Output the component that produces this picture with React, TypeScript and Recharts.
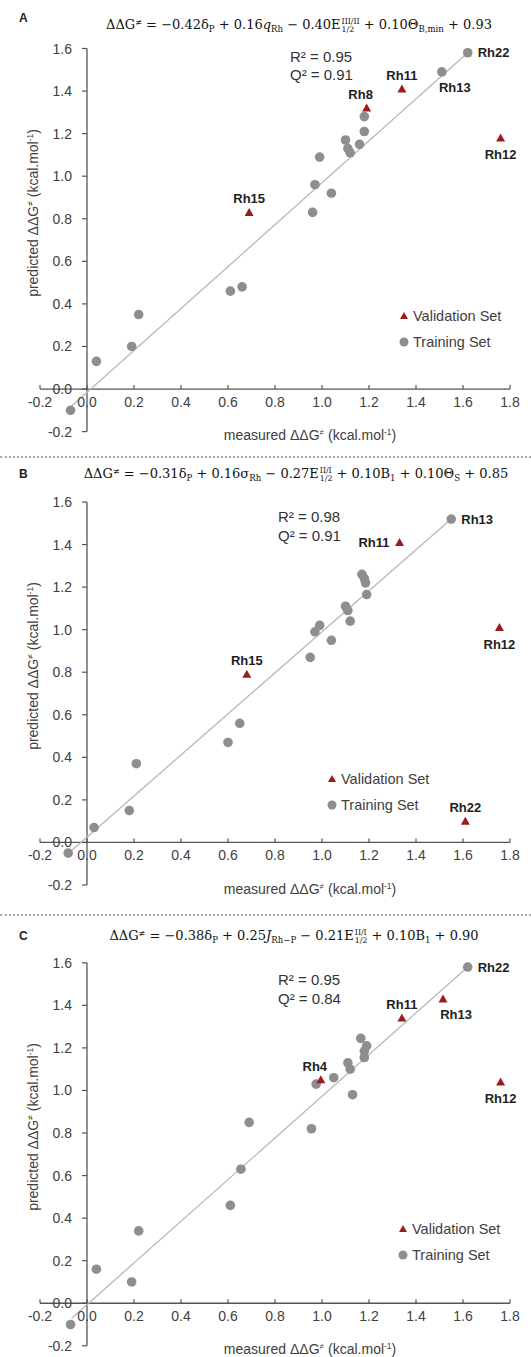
import React from 'react';
import { ScatterChart, Scatter, XAxis, YAxis, ReferenceDot, ReferenceLine, Legend } from 'recharts';

// ---------- data ----------
const xTicks = [-0.2, 0, 0.2, 0.4, 0.6, 0.8, 1.0, 1.2, 1.4, 1.6, 1.8];
const xTickLabels = ['-0.2', '0.0', '0.2', '0.4', '0.6', '0.8', '1.0', '1.2', '1.4', '1.6', '1.8'];
const yTicks = [-0.2, 0, 0.2, 0.4, 0.6, 0.8, 1.0, 1.2, 1.4, 1.6];
const yTickLabels = ['-0.2', '0.0', '0.2', '0.4', '0.6', '0.8', '1.0', '1.2', '1.4', '1.6'];

const trainA = [
  { x: -0.07, y: -0.1 }, { x: 0.04, y: 0.13 }, { x: 0.19, y: 0.2 }, { x: 0.22, y: 0.35 },
  { x: 0.61, y: 0.46 }, { x: 0.66, y: 0.48 }, { x: 0.96, y: 0.83 }, { x: 0.97, y: 0.96 },
  { x: 1.04, y: 0.92 }, { x: 0.99, y: 1.09 }, { x: 1.1, y: 1.17 }, { x: 1.11, y: 1.13 },
  { x: 1.12, y: 1.11 }, { x: 1.16, y: 1.15 }, { x: 1.18, y: 1.21 }, { x: 1.18, y: 1.28 },
  { x: 1.51, y: 1.49, name: 'Rh13' }, { x: 1.62, y: 1.58, name: 'Rh22' },
];
const validA = [
  { x: 0.69, y: 0.83, name: 'Rh15' }, { x: 1.19, y: 1.32, name: 'Rh8' },
  { x: 1.34, y: 1.41, name: 'Rh11' }, { x: 1.76, y: 1.18, name: 'Rh12' },
];
const fitA = [{ x: -0.065, y: -0.08 }, { x: 1.62, y: 1.58 }];

const trainB = [
  { x: -0.08, y: -0.05 }, { x: 0.03, y: 0.07 }, { x: 0.18, y: 0.15 }, { x: 0.21, y: 0.37 },
  { x: 0.6, y: 0.47 }, { x: 0.65, y: 0.56 }, { x: 0.95, y: 0.87 }, { x: 0.97, y: 0.99 },
  { x: 0.99, y: 1.02 }, { x: 1.04, y: 0.95 }, { x: 1.1, y: 1.11 }, { x: 1.11, y: 1.09 },
  { x: 1.12, y: 1.04 }, { x: 1.17, y: 1.26 }, { x: 1.18, y: 1.24 }, { x: 1.185, y: 1.22 },
  { x: 1.19, y: 1.165 }, { x: 1.55, y: 1.52, name: 'Rh13' },
];
const validB = [
  { x: 0.68, y: 0.79, name: 'Rh15' }, { x: 1.33, y: 1.41, name: 'Rh11' },
  { x: 1.61, y: 0.1, name: 'Rh22' }, { x: 1.755, y: 1.01, name: 'Rh12' },
];
const fitB = [{ x: -0.068, y: -0.04 }, { x: 1.55, y: 1.52 }];

const trainC = [
  { x: -0.07, y: -0.1 }, { x: 0.04, y: 0.16 }, { x: 0.19, y: 0.1 }, { x: 0.22, y: 0.34 },
  { x: 0.61, y: 0.46 }, { x: 0.655, y: 0.63 }, { x: 0.69, y: 0.85 }, { x: 0.955, y: 0.82 },
  { x: 0.975, y: 1.03 }, { x: 1.05, y: 1.06 }, { x: 1.11, y: 1.13 }, { x: 1.12, y: 1.1 },
  { x: 1.13, y: 0.98 }, { x: 1.165, y: 1.245 }, { x: 1.19, y: 1.21 }, { x: 1.18, y: 1.185 },
  { x: 1.18, y: 1.155 }, { x: 1.62, y: 1.58, name: 'Rh22' },
];
const validC = [
  { x: 0.995, y: 1.05, name: 'Rh4' }, { x: 1.34, y: 1.34, name: 'Rh11' },
  { x: 1.515, y: 1.43, name: 'Rh13' }, { x: 1.76, y: 1.04, name: 'Rh12' },
];
const fitC = [{ x: -0.065, y: -0.07 }, { x: 1.62, y: 1.58 }];

const labelPosA: Record<string, string> = { Rh22: 'right', Rh13: 'bottomRight', Rh11: 'top', Rh8: 'topLeft', Rh12: 'bottom', Rh15: 'top' };
const labelPosB: Record<string, string> = { Rh13: 'right', Rh11: 'left', Rh15: 'top', Rh12: 'bottom', Rh22: 'top' };
const labelPosC: Record<string, string> = { Rh22: 'right', Rh13: 'bottomRight', Rh11: 'top', Rh4: 'topLeft', Rh12: 'bottom' };

// ---------- styles ----------
const SANS = '"Liberation Sans", Arial, sans-serif';
const SERIF = '"DejaVu Serif", "Liberation Serif", serif';
const AXIS = '#555555';
const TICK = '#404040';
const GREY = '#8e8e8e';
const RED = '#9e1b1b';
const FIT = '#b8b8b8';

const W = 531;

function PointLabel({ cx, cy, name, pos }: any) {
  let x = cx;
  let y = cy;
  let anchor: any = 'middle';
  switch (pos) {
    case 'top': y = cy - 9; break;
    case 'topLeft': x = cx - 6; y = cy - 9; break;
    case 'bottom': y = cy + 21; break;
    case 'bottomRight': x = cx + 13; y = cy + 20; break;
    case 'right': x = cx + 10; y = cy + 4.5; anchor = 'start'; break;
    case 'left': x = cx - 10; y = cy + 4.5; anchor = 'end'; break;
  }
  return (
    <text x={x} y={y} textAnchor={anchor} fontSize={13} fontWeight={700} fill="#1e1e1e" fontFamily={SANS}>
      {name}
    </text>
  );
}

const circleShape = (labels: Record<string, string>) => (p: any) => (
  <g>
    <circle cx={p.cx} cy={p.cy} r={4.8} fill={GREY} />
    {p.payload && p.payload.name ? <PointLabel cx={p.cx} cy={p.cy} name={p.payload.name} pos={labels[p.payload.name]} /> : null}
  </g>
);

const triangleShape = (labels: Record<string, string>) => (p: any) => (
  <g>
    <path d={`M${p.cx},${p.cy - 4.5} L${p.cx + 4.5},${p.cy + 3.5} L${p.cx - 4.5},${p.cy + 3.5} Z`} fill={RED} />
    {p.payload && p.payload.name ? <PointLabel cx={p.cx} cy={p.cy} name={p.payload.name} pos={labels[p.payload.name]} /> : null}
  </g>
);

const xTickShape = (label: string) => (p: any) => (
  <g>
    <line x1={p.cx} y1={p.cy} x2={p.cx} y2={p.cy - 4} stroke={AXIS} strokeWidth={1.2} />
    <text x={p.cx} y={p.cy + 18} textAnchor="middle" fontSize={14} fill={TICK} fontFamily={SANS}>{label}</text>
  </g>
);

const yTickShape = (label: string) => (p: any) => (
  <g>
    <line x1={p.cx - 5} y1={p.cy} x2={p.cx} y2={p.cy} stroke={AXIS} strokeWidth={1.2} />
    <text x={p.cx - 15} y={p.cy + 5} textAnchor="end" fontSize={14} fill={TICK} fontFamily={SANS}>{label}</text>
  </g>
);

const LegendBox = () => (
  <div style={{ fontFamily: SANS, fontSize: 14.5, color: TICK }}>
    <div style={{ display: 'flex', alignItems: 'center', height: 26 }}>
      <svg width={12} height={12}><path d="M6,2 L10,9 L2,9 Z" fill={RED} /></svg>
      <span style={{ marginLeft: 3, whiteSpace: 'nowrap' }}>Validation Set</span>
    </div>
    <div style={{ display: 'flex', alignItems: 'center', height: 26 }}>
      <svg width={12} height={12}><circle cx={6} cy={6} r={4.5} fill={GREY} /></svg>
      <span style={{ marginLeft: 3, whiteSpace: 'nowrap' }}>Training Set</span>
    </div>
  </div>
);

const Sub = ({ children }: any) => <sub style={{ fontSize: '0.66em', verticalAlign: '-0.3em', lineHeight: 0 }}>{children}</sub>;
const Sup = ({ children }: any) => <sup style={{ fontSize: '0.62em', verticalAlign: '0.55em', lineHeight: 0 }}>{children}</sup>;
const SupSub = ({ sup, sub }: any) => (
  <span style={{ display: 'inline-flex', flexDirection: 'column', fontSize: '0.6em', lineHeight: 1.0, verticalAlign: '0.65em', marginLeft: 1, textAlign: 'left' }}>
    <span>{sup}</span>
    <span>{sub}</span>
  </span>
);

const eqA = (
  <>ΔΔG<Sup>≠</Sup> = −0.42δ<Sub>P</Sub> + 0.16<i>q</i><Sub>Rh</Sub> − 0.40E<SupSub sup="III/II" sub="1/2" /> + 0.10Θ<Sub>B,min</Sub> + 0.93</>
);
const eqB = (
  <>ΔΔG<Sup>≠</Sup> = −0.31δ<Sub>P</Sub> + 0.16σ<Sub>Rh</Sub> − 0.27E<SupSub sup="II/I" sub="1/2" /> + 0.10B<Sub>1</Sub> + 0.10Θ<Sub>S</Sub> + 0.85</>
);
const eqC = (
  <>ΔΔG<Sup>≠</Sup> = −0.38δ<Sub>P</Sub> + 0.25<i>J</i><Sub>Rh−P</Sub> − 0.21E<SupSub sup="II/I" sub="1/2" /> + 0.10B<Sub>1</Sub> + 0.90</>
);

interface PanelProps {
  top: number; height: number; mTop: number; mBottom: number;
  train: any[]; valid: any[]; fit: any[]; labels: Record<string, string>;
  eq: React.ReactNode; eqX: number; eqY: number; letter: string; letterY: number;
  r2: string; q2: string; rX: number; rY: number; qY: number;
  legX: number; legY: number;
}

function Panel(p: PanelProps) {
  const plotTop = p.mTop;
  return (
    <div style={{ position: 'absolute', left: 0, top: p.top, width: W, height: p.height }}>
      <ScatterChart width={W} height={p.height} margin={{ top: p.mTop, right: 21, bottom: p.mBottom, left: 40 }}>
        <XAxis type="number" dataKey="x" domain={[-0.2, 1.8]} hide />
        <YAxis type="number" dataKey="y" domain={[-0.2, 1.6]} hide />
        <Scatter data={p.fit} line={{ stroke: FIT, strokeWidth: 1.3 }} lineType="joint" shape={() => <g />} isAnimationActive={false} />
        <ReferenceLine segment={[{ x: -0.2, y: 0 }, { x: 1.8, y: 0 }]} stroke={AXIS} strokeWidth={1.3} />
        <ReferenceLine segment={[{ x: 0, y: -0.2 }, { x: 0, y: 1.6 }]} stroke={AXIS} strokeWidth={1.3} />
        {xTicks.map((t, i) => (
          <ReferenceDot key={'xt' + i} x={t} y={0} r={0} ifOverflow="visible" shape={xTickShape(xTickLabels[i])} />
        ))}
        {yTicks.map((t, i) => (
          <ReferenceDot key={'yt' + i} x={0} y={t} r={0} ifOverflow="visible" shape={yTickShape(yTickLabels[i])} />
        ))}
        <Scatter data={p.train} shape={circleShape(p.labels)} isAnimationActive={false} />
        <Scatter data={p.valid} shape={triangleShape(p.labels)} isAnimationActive={false} />
        <Legend
          layout="vertical" align="center" verticalAlign="middle"
          wrapperStyle={{ left: p.legX - 6, top: p.legY - 13, width: 130, height: 52 }}
          content={() => <LegendBox />}
        />
      </ScatterChart>
      {/* panel letter */}
      <div style={{ position: 'absolute', left: 19, top: p.letterY - 8, fontFamily: SANS, fontWeight: 700, fontSize: 12, color: '#222', lineHeight: '16px' }}>{p.letter}</div>
      {/* equation */}
      <div style={{ position: 'absolute', left: p.eqX, top: p.eqY - 11, transform: 'translateX(-50%)', whiteSpace: 'nowrap', fontFamily: SERIF, fontSize: 13, color: '#111', lineHeight: '22px' }}>{p.eq}</div>
      {/* stats */}
      <div style={{ position: 'absolute', left: p.rX, top: p.rY - 9, fontFamily: SANS, fontSize: 15, color: '#333', lineHeight: '18px', whiteSpace: 'nowrap' }}>{p.r2}</div>
      <div style={{ position: 'absolute', left: p.rX, top: p.qY - 9, fontFamily: SANS, fontSize: 15, color: '#333', lineHeight: '18px', whiteSpace: 'nowrap' }}>{p.q2}</div>
      {/* axis titles */}
      <div style={{ position: 'absolute', left: 33, top: plotTop + 164, transform: 'translate(-50%, -50%) rotate(-90deg)', whiteSpace: 'nowrap', fontFamily: SANS, fontSize: 14, color: TICK }}>
        predicted ΔΔG<sup style={{ fontSize: '0.6em' }}>≠</sup> (kcal.mol<sup style={{ fontSize: '0.6em' }}>-1</sup>)
      </div>
      <div style={{ position: 'absolute', left: 310, top: plotTop + 340.5 + 46, transform: 'translate(-50%, -50%)', whiteSpace: 'nowrap', fontFamily: SANS, fontSize: 14, color: TICK }}>
        measured ΔΔG<sup style={{ fontSize: '0.6em' }}>≠</sup> (kcal.mol<sup style={{ fontSize: '0.6em' }}>-1</sup>)
      </div>
    </div>
  );
}

const Separator = ({ y }: { y: number }) => (
  <div style={{ position: 'absolute', left: 0, top: y, width: W, height: 0, borderTop: '2px dotted #a8a8a8' }} />
);

export default function App() {
  return (
    <div style={{ position: 'absolute', left: 0, top: 0, width: W, height: 1357, background: '#fff', overflow: 'hidden' }}>
      <Panel top={0} height={457} mTop={48.5} mBottom={25.4} train={trainA} valid={validA} fit={fitA} labels={labelPosA}
        eq={eqA} eqX={299} eqY={25} letter="A" letterY={18} r2="R² = 0.95" q2="Q² = 0.91" rX={290} rY={57} qY={75}
        legX={404} legY={316} />
      <Separator y={456} />
      <Panel top={457} height={458} mTop={45} mBottom={30} train={trainB} valid={validB} fit={fitB} labels={labelPosB}
        eq={eqB} eqX={296} eqY={17} letter="B" letterY={17} r2="R² = 0.98" q2="Q² = 0.91" rX={278} rY={60} qY={79}
        legX={332} legY={322} />
      <Separator y={914} />
      <Panel top={915} height={442} mTop={47.8} mBottom={11.2} train={trainC} valid={validC} fit={fitC} labels={labelPosC}
        eq={eqC} eqX={294} eqY={21} letter="C" letterY={21} r2="R² = 0.95" q2="Q² = 0.84" rX={278} rY={65} qY={84}
        legX={403} legY={314} />
    </div>
  );
}
